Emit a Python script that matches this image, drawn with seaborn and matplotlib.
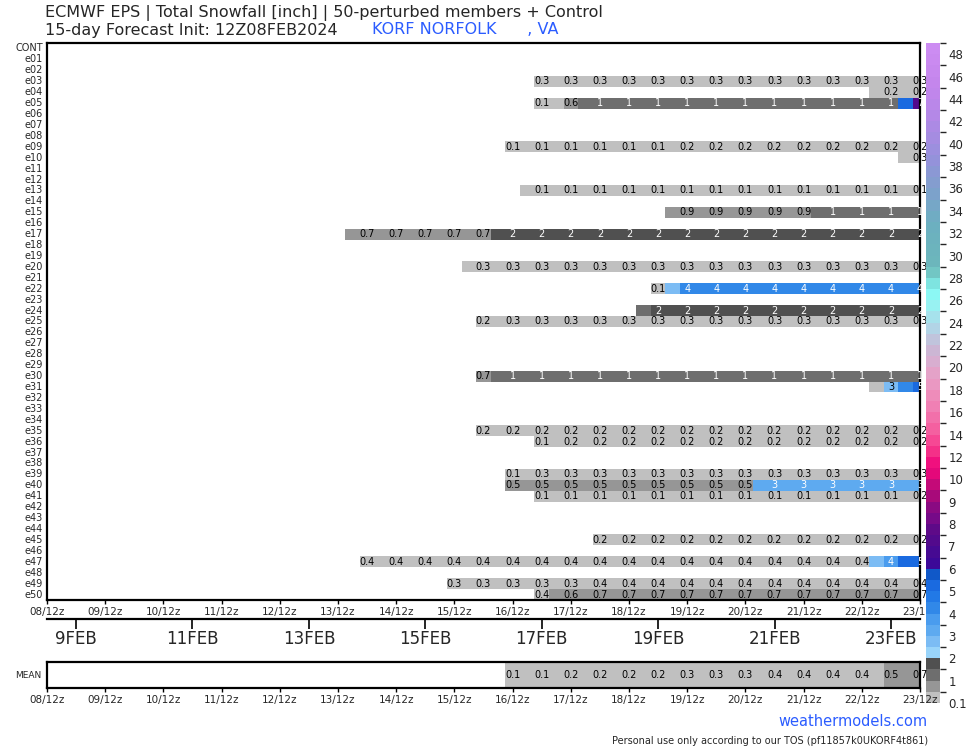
# -*- coding:utf-8 -*-

import numpy as np
import pandas as pd
import matplotlib
matplotlib.use("Agg")
import matplotlib.pyplot as plt
import seaborn as sns
from matplotlib.colors import ListedColormap, BoundaryNorm, LinearSegmentedColormap
from matplotlib.cm import ScalarMappable


sns.set_theme(style="white")
plt.rcParams["font.family"] = ["DejaVu Sans"]

# --- data (6-hourly steps, step 0 = 08/12z, step 60 = 23/12z) ---
members = ["CONT", "e01", "e02", "e03", "e04", "e05", "e06", "e07", "e08", "e09", "e10",
           "e11", "e12", "e13", "e14", "e15", "e16", "e17", "e18", "e19", "e20",
           "e21", "e22", "e23", "e24", "e25", "e26", "e27", "e28", "e29", "e30",
           "e31", "e32", "e33", "e34", "e35", "e36", "e37", "e38", "e39", "e40",
           "e41", "e42", "e43", "e44", "e45", "e46", "e47", "e48", "e49", "e50"]

# (first step, last step, snowfall in inches)
snow_runs = {
    "e03": [(34, 60, 0.3)],
    "e04": [(57, 60, 0.2)],
    "e05": [(34, 35, 0.1), (36, 36, 0.6), (37, 58, 1.2), (59, 59, 5.3), (60, 60, 7.1)],
    "e09": [(32, 43, 0.1), (44, 60, 0.2)],
    "e10": [(59, 60, 0.3)],
    "e13": [(33, 60, 0.1)],
    "e15": [(43, 52, 0.9), (53, 60, 1.2)],
    "e17": [(21, 30, 0.7), (31, 60, 1.9)],
    "e20": [(29, 60, 0.3)],
    "e22": [(42, 42, 0.1), (43, 43, 2.8), (44, 60, 4.2)],
    "e24": [(41, 41, 1.2), (42, 60, 1.9)],
    "e25": [(30, 31, 0.2), (32, 60, 0.3)],
    "e30": [(30, 30, 0.7), (31, 60, 1.2)],
    "e31": [(57, 57, 0.2), (58, 58, 2.8), (59, 59, 4.2), (60, 60, 5.2)],
    "e35": [(30, 60, 0.2)],
    "e36": [(34, 35, 0.1), (36, 60, 0.2)],
    "e39": [(32, 33, 0.1), (34, 60, 0.3)],
    "e40": [(32, 48, 0.5), (49, 60, 3.2)],
    "e41": [(34, 59, 0.1), (60, 60, 0.2)],
    "e45": [(38, 60, 0.2)],
    "e47": [(22, 56, 0.4), (57, 57, 2.8), (58, 58, 3.8), (59, 60, 5.3)],
    "e49": [(28, 37, 0.3), (38, 60, 0.4)],
    "e50": [(34, 34, 0.4), (35, 36, 0.6), (37, 60, 0.7)],
}

mean_runs = [(32, 35, 0.1), (36, 43, 0.2), (44, 49, 0.3), (50, 57, 0.4), (58, 58, 0.5), (59, 60, 0.7)]

time_labels = ["08/12z", "09/12z", "10/12z", "11/12z", "12/12z", "13/12z", "14/12z", "15/12z",
               "16/12z", "17/12z", "18/12z", "19/12z", "20/12z", "21/12z", "22/12z", "23/12z"]
date_labels = ["9FEB", "11FEB", "13FEB", "15FEB", "17FEB", "19FEB", "21FEB", "23FEB"]

cbar_ticks = [0.1, 1, 2, 3, 4, 5, 6, 7, 8, 9, 10, 12, 14, 16, 18, 20, 22, 24,
              26, 28, 30, 32, 34, 36, 38, 40, 42, 44, 46, 48]

# --- colour scale ---
bounds = [0.1] + list(np.arange(0.5, 10.01, 0.5)) + list(range(11, 50))
low_colors = ["#c0c0c0", "#969696", "#6e6e6e", "#505050",
              "#99d4fa", "#7cbcf4", "#5eaaf0", "#4a9cee", "#3188e8", "#2279e6", "#1a6ae0", "#1058c8",
              "#3c0898", "#460a92", "#520a8c", "#5e0a88", "#760a88", "#8a0a82", "#a80a7a", "#c40a78",
              "#e4087a", "#f0107e", "#f43088", "#f64894", "#f460a0", "#f270aa", "#f080b4", "#ee8cba",
              "#ea98c2", "#e4a2c8", "#d8aed0", "#ccb6d4", "#c0c4dc", "#b2d4e6", "#a6e2ec", "#98f2f2",
              "#8cf8f4", "#7ee4e0", "#72c6c4"]
upper = LinearSegmentedColormap.from_list(
    "upper", ["#6cb6bc", "#6cb0c0", "#7ea0cc", "#9890dc", "#b288e6", "#c486ec", "#cc8cf2"])
high_colors = [upper(i / 19) for i in range(20)]
cmap = ListedColormap(low_colors + high_colors)
norm = BoundaryNorm(bounds, cmap.N)


def build_grid(runs):
    row = np.full(61, np.nan)
    for s0, s1, v in runs:
        row[s0:s1 + 1] = v
    return row


def fmt(v):
    return f"{v:.1f}" if v < 1 else f"{int(round(v))}"


def text_color(v):
    r, g, b, _ = cmap(norm(v))
    lum = 0.2126 * r ** 2.2 + 0.7152 * g ** 2.2 + 0.0722 * b ** 2.2
    return "white" if (v >= 1 and lum < 0.42) else "black"


grid = np.vstack([build_grid(snow_runs.get(m, [])) for m in members])
df = pd.DataFrame(grid, index=members, columns=range(61))
df_mean = pd.DataFrame(build_grid(mean_runs)[None, :], index=["MEAN"], columns=range(61))

W, H = 974, 750
fig = plt.figure(figsize=(W / 100, H / 100), dpi=100)


def rect(x0, y0, x1, y1):
    return [x0 / W, 1 - y1 / H, (x1 - x0) / W, (y1 - y0) / H]


def style_box(ax):
    for sp in ax.spines.values():
        sp.set_visible(True)
        sp.set_color("black")
        sp.set_linewidth(1.6)


def annotate(ax, frame):
    for i, (_, row) in enumerate(frame.iterrows()):
        for s in range(0, 61, 2):
            v = row[s]
            if np.isnan(v):
                continue
            ax.text(s + 0.5, i + 0.5, fmt(v), ha="center", va="center",
                    fontsize=7, color=text_color(v), clip_on=False)


# main member grid
ax = fig.add_axes(rect(47, 43, 920, 600))
sns.heatmap(df, ax=ax, cmap=cmap, norm=norm, cbar=False, linewidths=0,
            xticklabels=False, yticklabels=True)
ax.set_xlim(0.5, 60.5)
annotate(ax, df)
style_box(ax)
ax.set_xticks(np.arange(0, 61, 4) + 0.5)
ax.set_xticklabels(time_labels, rotation=0)
ax.tick_params(axis="x", bottom=True, length=3, width=1, labelsize=7.5, pad=2, color="black")
ax.tick_params(axis="y", length=0, labelsize=7, pad=3)
ax.set_yticklabels(members, rotation=0)
ax.set_xlabel("")
ax.set_ylabel("")

# date axis
ax_d = fig.add_axes(rect(47, 619, 920, 627))
ax_d.set_xlim(0.5, 60.5)
for k, sp in ax_d.spines.items():
    sp.set_visible(k == "top")
ax_d.spines["top"].set_linewidth(1.6)
ax_d.spines["top"].set_color("black")
ax_d.set_yticks([])
ax_d.set_xticks(np.arange(2, 61, 8) + 0.5)
ax_d.set_xticklabels(date_labels)
ax_d.tick_params(axis="x", bottom=False, top=True, labelbottom=True, labeltop=False,
                 direction="in", length=7, width=1.2, labelsize=12, pad=2, color="black")
ax_d.patch.set_alpha(0)

# colour bar (drawn over the main time labels, under the mean strip labels)
cax = fig.add_axes(rect(926, 43, 940, 703))
cb = fig.colorbar(ScalarMappable(norm=norm, cmap=cmap), cax=cax, ticks=cbar_ticks, spacing="uniform")
cb.set_ticklabels([str(t) for t in cbar_ticks])
cb.outline.set_visible(False)
cax.tick_params(length=0, labelsize=8.5, pad=6)

# ensemble mean strip
ax_m = fig.add_axes(rect(47, 662, 920, 688))
sns.heatmap(df_mean, ax=ax_m, cmap=cmap, norm=norm, cbar=False, linewidths=0,
            xticklabels=False, yticklabels=True)
ax_m.set_xlim(0.5, 60.5)
annotate(ax_m, df_mean)
style_box(ax_m)
ax_m.set_xticks(np.arange(0, 61, 4) + 0.5)
ax_m.set_xticklabels(time_labels, rotation=0)
ax_m.tick_params(axis="x", bottom=True, length=3, width=1, labelsize=7.5, pad=2, color="black")
ax_m.tick_params(axis="y", length=0, labelsize=6.5, pad=4)
ax_m.set_yticklabels(["MEAN"], rotation=0)
ax_m.set_xlabel("")
ax_m.set_ylabel("")

# titles and credits
fig.text(45 / W, 1 - 13 / H, "ECMWF EPS | Total Snowfall [inch] | 50-perturbed members + Control",
         fontsize=11.5, va="center", ha="left")
fig.text(45 / W, 1 - 30 / H, "15-day Forecast Init: 12Z08FEB2024", fontsize=11.5, va="center", ha="left")
fig.text(372 / W, 1 - 30 / H, "KORF NORFOLK      , VA", fontsize=11.5, va="center", ha="left",
         color="#2b5cff")
fig.text(853 / W, 1 - 722 / H, "weathermodels.com", fontsize=10.5, va="center", ha="center",
         color="#2b5cff")
fig.text(928 / W, 1 - 741 / H, "Personal use only according to our TOS (pf11857k0UKORF4t861)",
         fontsize=7, va="center", ha="right")

fig.savefig("out.png", dpi=100)
